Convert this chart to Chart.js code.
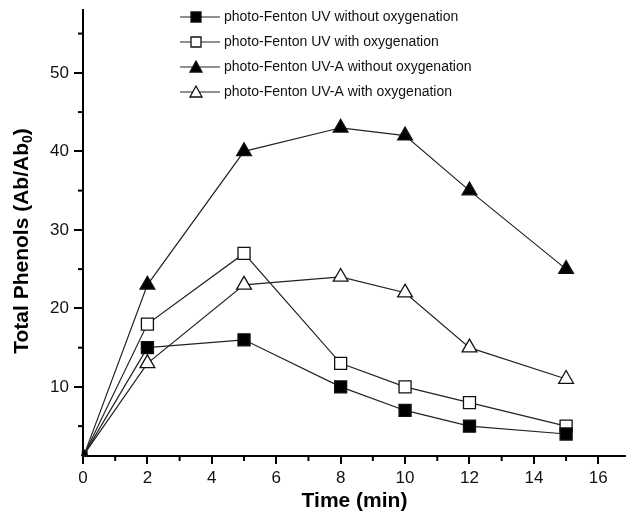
<!DOCTYPE html>
<html><head><meta charset="utf-8">
<script src="https://cdn.jsdelivr.net/npm/chart.js@4.4.1/dist/chart.umd.min.js"></script>
<style>html,body{margin:0;padding:0;background:#fff}#wrap{width:626px;height:517px}</style>
</head><body><div id="wrap"><canvas id="c" width="626" height="517"></canvas></div>
<script>
const times = [0.05, 2, 5, 8, 10, 12, 15];
const uvNoOx = [1.5, 15, 16, 10, 7, 5, 4];
const uvOx = [1.5, 18, 27, 13, 10, 8, 5];
const uvaNoOx = [1.5, 23, 40, 43, 42, 35, 25];
const uvaOx = [1.5, 13, 23, 24, 22, 15, 11];
const seriesLabels = ['photo-Fenton UV without oxygenation','photo-Fenton UV with oxygenation','photo-Fenton UV-A without oxygenation','photo-Fenton UV-A with oxygenation'];
const xTicks = [0,2,4,6,8,10,12,14,16];
const yTicks = [10,20,30,40,50];
const FONT = 'Liberation Sans, Arial, sans-serif';

const styles = [
  {pointStyle:'rect', fill:'#000', r:8.5},
  {pointStyle:'rect', fill:'#fff', r:8.5},
  {pointStyle:'triangle', fill:'#000', r:8.5},
  {pointStyle:'triangle', fill:'#fff', r:8.5}
];
const vals = [uvNoOx, uvOx, uvaNoOx, uvaOx];
const datasets = vals.map((v,i)=>({
  label: seriesLabels[i],
  data: v.map((y,j)=>({x:times[j], y:y})),
  borderColor:'#222', borderWidth:1.2,
  pointStyle: styles[i].pointStyle,
  pointBackgroundColor: styles[i].fill,
  pointBorderColor:'#111', pointBorderWidth:1.3,
  pointRadius: v.map((y,j)=> j===0 ? 3 : styles[i].r),
  pointHoverRadius: styles[i].r,
  showLine:true, tension:0, clip:false
}));

const extras = {
  id:'extras',
  afterDraw(chart){
    const ctx = chart.ctx; const xs = chart.scales.x, ys = chart.scales.y;
    ctx.save();
    ctx.strokeStyle='#000'; ctx.lineWidth=2;
    for (let v=1; v<=15; v+=2){ const px = xs.getPixelForValue(v); ctx.beginPath(); ctx.moveTo(px, ys.bottom); ctx.lineTo(px, ys.bottom+5); ctx.stroke(); }
    for (let v=5; v<=55; v+=10){ const py = ys.getPixelForValue(v); ctx.beginPath(); ctx.moveTo(xs.left, py); ctx.lineTo(xs.left-5, py); ctx.stroke(); }
    ctx.translate(22, 241); ctx.rotate(-Math.PI/2);
    ctx.fillStyle='#000';
    const main='Total Phenols (Ab/Ab', sub='0', end=')';
    ctx.font='bold 21px '+FONT;
    const w1=ctx.measureText(main).width, w3=ctx.measureText(end).width;
    ctx.font='bold 14px '+FONT; const w2=ctx.measureText(sub).width;
    const total=w1+w2+w3; let x0=-total/2;
    ctx.textBaseline='middle'; ctx.textAlign='left';
    ctx.font='bold 21px '+FONT; ctx.fillText(main,x0,0);
    ctx.font='bold 14px '+FONT; ctx.fillText(sub,x0+w1,6);
    ctx.font='bold 21px '+FONT; ctx.fillText(end,x0+w1+w2,0);
    ctx.restore();
    ctx.save();
    const rows=[17,42,67,92];
    ctx.font='14px '+FONT; ctx.fillStyle='#111'; ctx.textBaseline='middle'; ctx.textAlign='left';
    rows.forEach((ry,i)=>{
      ctx.strokeStyle='#222'; ctx.lineWidth=1.2;
      ctx.beginPath(); ctx.moveTo(180,ry); ctx.lineTo(220,ry); ctx.stroke();
      ctx.fillStyle=styles[i].fill; ctx.strokeStyle='#111'; ctx.lineWidth=1.3;
      ctx.beginPath();
      if(styles[i].pointStyle==='rect'){ ctx.rect(191,ry-5,10,10);} else { ctx.moveTo(196,ry-6); ctx.lineTo(202,ry+5); ctx.lineTo(190,ry+5); ctx.closePath(); }
      ctx.fill(); ctx.stroke();
      ctx.fillStyle='#111';
      ctx.fillText(seriesLabels[i], 224, ry);
    });
    ctx.restore();
  }
};

new Chart(document.getElementById('c'), {
  type:'scatter',
  data:{datasets},
  options:{
    responsive:false, animation:false, devicePixelRatio:1,
    layout:{autoPadding:false, padding:{top:10,right:0,left:0,bottom:0}},
    plugins:{legend:{display:false}, tooltip:{enabled:false}},
    scales:{
      x:{type:'linear', min:0, max:16.86,
        afterBuildTicks(s){ s.ticks = xTicks.map(v=>({value:v})); },
        afterFit(s){ s.height = 61; s.paddingRight = 0; s.paddingLeft = 0; },
        grid:{drawOnChartArea:false, drawTicks:true, tickLength:8, color:'#000', lineWidth:2},
        border:{display:true, color:'#000', width:2},
        ticks:{color:'#111', font:{size:17, family:FONT}, padding:4, maxRotation:0, autoSkip:false},
        title:{display:true, text:'Time (min)', color:'#000', font:{size:21, weight:'bold', family:FONT}, padding:{top:2,bottom:3}}
      },
      y:{type:'linear', min:1.2, max:58,
        afterBuildTicks(s){ s.ticks = yTicks.map(v=>({value:v})); },
        afterFit(s){ s.width = 83; s.paddingTop = 0; s.paddingBottom = 0; },
        grid:{drawOnChartArea:false, drawTicks:true, tickLength:9, color:'#000', lineWidth:2},
        border:{display:true, color:'#000', width:2},
        ticks:{color:'#111', font:{size:17, family:FONT}, padding:5, autoSkip:false}
      }
    }
  },
  plugins:[extras]
});
</script></body></html>
